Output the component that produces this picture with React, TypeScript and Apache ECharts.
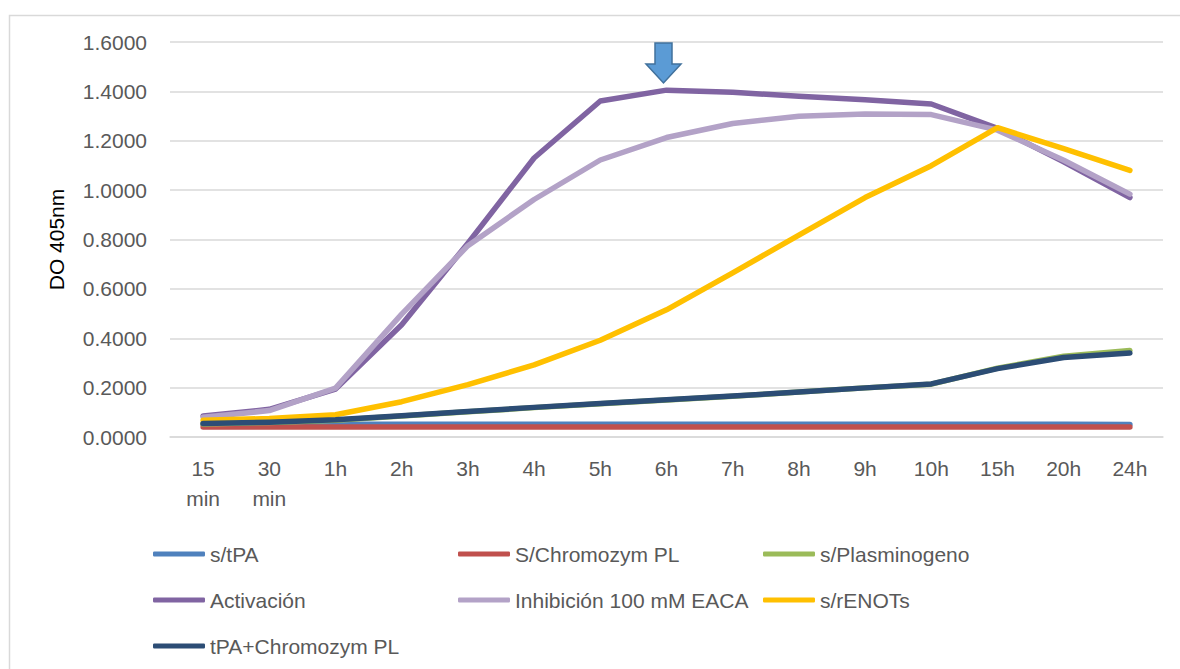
import React, { useEffect, useRef } from 'react';
import * as echarts from 'echarts';

// Time points of the chromogenic assay
const categories = ['15\nmin', '30\nmin', '1h', '2h', '3h', '4h', '5h', '6h', '7h', '8h', '9h', '10h', '15h', '20h', '24h'];

// Absorbance (DO 405 nm) for each condition
const sTPA = [0.052, 0.052, 0.052, 0.052, 0.052, 0.052, 0.052, 0.052, 0.052, 0.052, 0.052, 0.052, 0.052, 0.052, 0.051];
const sChromozym = [0.041, 0.041, 0.041, 0.041, 0.041, 0.041, 0.041, 0.041, 0.041, 0.041, 0.041, 0.041, 0.041, 0.041, 0.041];
const sPlasminogeno = [0.053, 0.059, 0.068, 0.085, 0.102, 0.119, 0.135, 0.150, 0.165, 0.182, 0.199, 0.214, 0.279, 0.327, 0.350];
const activacion = [0.085, 0.112, 0.194, 0.455, 0.785, 1.130, 1.361, 1.405, 1.396, 1.380, 1.366, 1.349, 1.250, 1.115, 0.970];
const inhibicion = [0.080, 0.107, 0.198, 0.498, 0.775, 0.962, 1.122, 1.213, 1.270, 1.299, 1.308, 1.306, 1.243, 1.121, 0.984];
const sRENOTs = [0.068, 0.075, 0.090, 0.143, 0.212, 0.292, 0.392, 0.515, 0.665, 0.818, 0.970, 1.099, 1.253, 1.168, 1.080];
const tpaChromozym = [0.055, 0.060, 0.070, 0.086, 0.103, 0.120, 0.136, 0.151, 0.166, 0.182, 0.199, 0.215, 0.277, 0.322, 0.340];

const seriesNames = [
  's/tPA',
  'S/Chromozym PL',
  's/Plasminogeno',
  'Activación',
  'Inhibición 100 mM EACA',
  's/rENOTs',
  'tPA+Chromozym PL',
];
const seriesValues = [sTPA, sChromozym, sPlasminogeno, activacion, inhibicion, sRENOTs, tpaChromozym];
const seriesColors = ['#4F81BD', '#C0504D', '#9BBB59', '#8064A2', '#B3A2C7', '#FFC000', '#2C4D75'];

// Legend rows (three columns per row)
const legendRows = [
  ['s/tPA', 'S/Chromozym PL', 's/Plasminogeno'],
  ['Activación', 'Inhibición 100 mM EACA', 's/rENOTs'],
  ['tPA+Chromozym PL'],
];
const legendTops = [537, 583, 629];

const yTicks = { min: 0, max: 1.6, interval: 0.2 };
const markedPoint = '6h';

const FONT = '"Liberation Sans", Arial, sans-serif';
const TEXT_GREY = '#595959';
const GRID_GREY = '#D9D9D9';

export default function App() {
  const ref = useRef<HTMLDivElement>(null);

  useEffect(() => {
    const chart = echarts.init(ref.current!, null, { renderer: 'svg' });

    const option: any = {
      animation: false,
      backgroundColor: '#ffffff',
      textStyle: { fontFamily: FONT },
      grid: { left: 170, right: 17, top: 42, bottom: 232, containLabel: false },
      xAxis: {
        type: 'category',
        data: categories,
        boundaryGap: true,
        axisLine: { show: true, lineStyle: { color: GRID_GREY, width: 1.5 } },
        axisTick: { show: false },
        axisLabel: {
          color: TEXT_GREY,
          fontSize: 21,
          fontFamily: FONT,
          lineHeight: 30,
          margin: 16,
          interval: 0,
        },
        splitLine: { show: false },
      },
      yAxis: {
        type: 'value',
        min: yTicks.min,
        max: yTicks.max,
        interval: yTicks.interval,
        name: 'DO 405nm',
        nameLocation: 'middle',
        nameRotate: 90,
        nameGap: 103,
        nameTextStyle: { color: '#000000', fontSize: 21, fontFamily: FONT },
        axisLine: { show: false },
        axisTick: { show: false },
        axisLabel: {
          color: TEXT_GREY,
          fontSize: 21,
          fontFamily: FONT,
          margin: 23,
          formatter: (v: number) => v.toFixed(4),
        },
        splitLine: { show: true, lineStyle: { color: GRID_GREY, width: 1.5 } },
      },
      legend: legendRows.map((names, i) => ({
        data: names,
        orient: 'horizontal',
        left: 148,
        top: legendTops[i],
        itemWidth: 52,
        itemHeight: 5,
        itemGap: 0,
        icon: 'roundRect',
        selectedMode: false,
        textStyle: {
          color: TEXT_GREY,
          fontSize: 21,
          fontFamily: FONT,
          width: 248,
          lineHeight: 24,
        },
      })),
      series: seriesNames.map((name, i) => ({
        name,
        type: 'line',
        data: seriesValues[i],
        showSymbol: false,
        symbol: 'none',
        color: seriesColors[i],
        lineStyle: { color: seriesColors[i], width: 5.5, cap: 'round', join: 'round' },
        emphasis: { disabled: true },
      })),
    };

    chart.setOption(option);

    // Arrow marking the activation peak, placed over its category
    const cx = chart.convertToPixel({ xAxisIndex: 0 }, categories.indexOf(markedPoint)) as number;
    const yTop = (chart.convertToPixel({ yAxisIndex: 0 }, yTicks.max) as number) + 1;
    const ax = cx - 3;
    const arrow = [
      [ax - 8.5, yTop],
      [ax + 8.5, yTop],
      [ax + 8.5, yTop + 21],
      [ax + 17.5, yTop + 21],
      [ax, yTop + 40],
      [ax - 17.5, yTop + 21],
      [ax - 8.5, yTop + 21],
    ];

    chart.setOption({
      graphic: [
        {
          type: 'rect',
          left: 7,
          top: 13,
          shape: { x: 0, y: 0, width: 1200, height: 700 },
          style: { fill: 'none', stroke: GRID_GREY, lineWidth: 1.5 },
          silent: true,
          z: -1,
        },
        {
          type: 'polygon',
          shape: { points: arrow },
          style: { fill: '#5B9BD5', stroke: '#41719C', lineWidth: 1.5 },
          silent: true,
          z: 100,
        },
      ],
    });

    return () => chart.dispose();
  }, []);

  return <div ref={ref} style={{ position: 'fixed', left: 0, top: 0, width: 1180, height: 669 }} />;
}
